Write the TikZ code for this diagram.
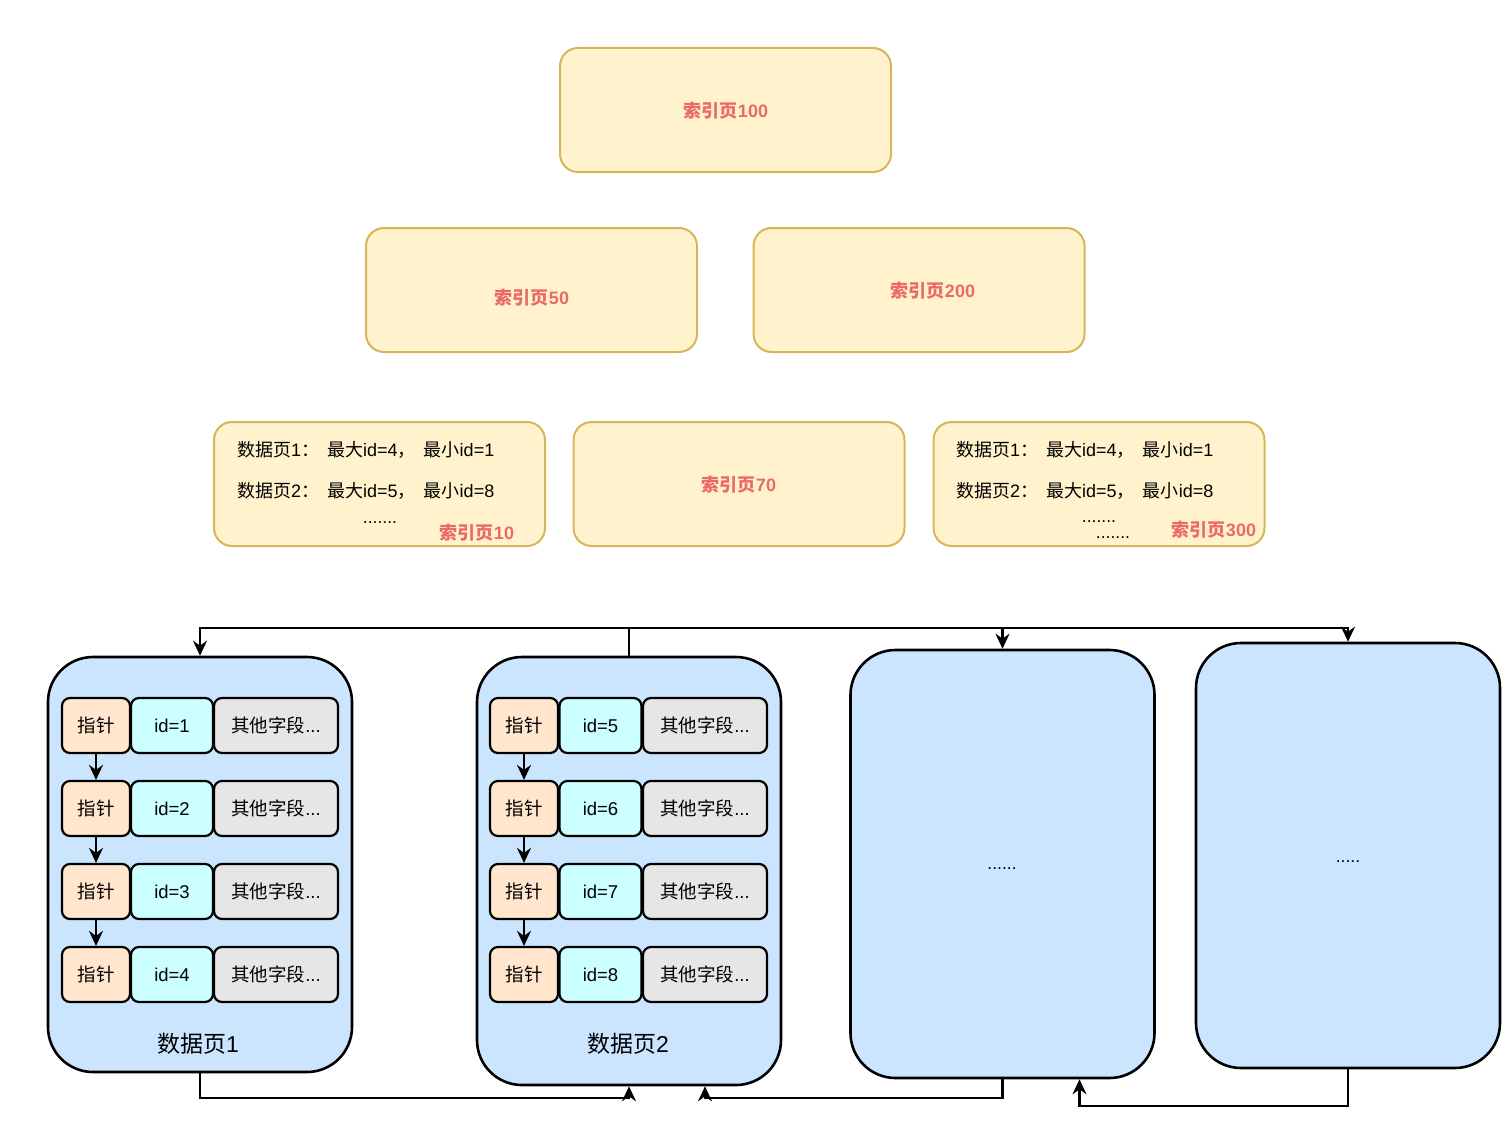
\documentclass[tikz,border=0pt]{standalone}
\usepackage{fontspec}
\setmainfont{Liberation Sans}
\newfontfamily\cjk{Noto Sans CJK SC}
\usetikzlibrary{arrows.meta,calc}
\definecolor{yfill}{HTML}{FFF2CC}
\definecolor{ydraw}{HTML}{D6B656}
\definecolor{redtxt}{HTML}{EA6B66}
\definecolor{bfill}{HTML}{CCE5FF}
\definecolor{pfill}{HTML}{FFE6CC}
\definecolor{ifill}{HTML}{CCFFFF}
\definecolor{ofill}{HTML}{E6E6E6}
\newcommand{\zh}[1]{{\cjk #1}}
\newcommand{\gap}{\hspace{8pt}}
\tikzset{
  ybox/.style={draw=ydraw,fill=yfill,line width=2pt,rounded corners=18pt,minimum width=331pt,minimum height=124pt},
  rlabel/.style={text=redtxt,font=\fontsize{18}{22}\selectfont\bfseries,inner sep=0pt},
  btxt/.style={font=\fontsize{18}{21}\selectfont,inner sep=0pt,anchor=west},
  dots/.style={font=\fontsize{17.5}{21}\selectfont,inner sep=0pt,text height=2pt,text depth=0pt},
  dpage/.style={draw=black,fill=bfill,line width=2.6pt,rounded corners=45pt,minimum width=304pt},
  cell/.style={draw=black,line width=2.2pt,rounded corners=8pt,minimum height=55pt,font=\fontsize{18.5}{22}\selectfont,inner sep=0pt},
  ptrc/.style={cell,fill=pfill,minimum width=68pt},
  idc/.style={cell,fill=ifill,minimum width=82pt},
  othc/.style={cell,fill=ofill,minimum width=124pt},
  conn/.style={draw=black,line width=2.2pt,-{Stealth[length=15pt,width=14pt,inset=5pt]}},
  plain/.style={draw=black,line width=2.2pt},
  pname/.style={font=\fontsize{23}{27}\selectfont,inner sep=0pt},
}
\begin{document}
\begin{tikzpicture}[x=1pt,y=-1pt]
\useasboundingbox (0,0) rectangle (1512,1129);
% index pages
\node[ybox] (i100) at (725.5,110) {};
\node[rlabel] (l100) at (726,111) {\zh{索引页}100};
\node[ybox] (i50) at (531.5,290) {};
\node[rlabel] (l50) at (532,298) {\zh{索引页}50};
\node[ybox] (i200) at (919,290) {};
\node[rlabel] (l200) at (933,291) {\zh{索引页}200};
\node[ybox] (i10) at (379.5,484) {};
\node[rlabel] (l10) at (477,533) {\zh{索引页}10};
\node[btxt] (t10a) at (237,450) {\zh{数据页}1\zh{：}\gap\zh{最大}id=4\zh{，}\gap\zh{最小}id=1};
\node[btxt] (t10b) at (237,491) {\zh{数据页}2\zh{：}\gap\zh{最大}id=5\zh{，}\gap\zh{最小}id=8};
\node[dots] (t10c) at (380,522) {.......};
\node[ybox] (i70) at (739,484) {};
\node[rlabel] (l70) at (739,485) {\zh{索引页}70};
\node[ybox] (i300) at (1099,484) {};
\node[rlabel] (l300) at (1214,530) {\zh{索引页}300};
\node[btxt] (t300a) at (956,450) {\zh{数据页}1\zh{：}\gap\zh{最大}id=4\zh{，}\gap\zh{最小}id=1};
\node[btxt] (t300b) at (956,491) {\zh{数据页}2\zh{：}\gap\zh{最大}id=5\zh{，}\gap\zh{最小}id=8};
\node[dots] (t300c) at (1099,521) {.......};
\node[dots] (t300d) at (1113,537) {.......};
% data pages
\node[dpage,minimum height=415pt] (p1) at (200,864.5) {};
\node[dpage,minimum height=428pt] (p2) at (629,871) {};
\node[dpage,minimum height=428pt] (p3) at (1002.5,864) {};
\node[dpage,minimum height=425pt] (p4) at (1348,855.5) {};
\node[pname] (n1) at (198,1044) {\zh{数据页}1};
\node[pname] (n2) at (628,1044) {\zh{数据页}2};
\node[dots] (d3) at (1002,868) {......};
\node[dots] (d4) at (1348,861) {.....};
% rows page 1
\foreach \r/\y/\id in {1/725.5/1,2/808.5/2,3/891.5/3,4/974.5/4}{
  \node[ptrc] (a\r p) at (96,\y) {\zh{指针}};
  \node[idc] (a\r i) at (172,\y) {id=\id};
  \node[othc] (a\r o) at (276,\y) {\zh{其他字段}...};
}
\foreach \r/\y/\id in {1/725.5/5,2/808.5/6,3/891.5/7,4/974.5/8}{
  \node[ptrc] (b\r p) at (524,\y) {\zh{指针}};
  \node[idc] (b\r i) at (600.5,\y) {id=\id};
  \node[othc] (b\r o) at (705,\y) {\zh{其他字段}...};
}
\foreach \a/\b in {1/2,2/3,3/4}{
  \draw[conn] (a\a p.south) -- (a\b p.north);
  \draw[conn] (b\a p.south) -- (b\b p.north);
}
% top bus
\coordinate (bus) at (0,628);
\draw[plain] (p2.north) -- (p2.north |- bus);
\draw[conn] (p2.north |- bus) -| (p1.north);
\draw[conn] (p2.north |- bus) -| (p3.north);
\draw[conn] (p3.north |- bus) -| (p4.north);
% bottom links
\coordinate (bot1) at (0,1098);
\coordinate (bot2) at (0,1106);
\coordinate (p2in) at ($(p2.south)+(76,0)$);
\coordinate (p3in) at ($(p3.south)+(77,0)$);
\draw[conn] (p1.south) -- (p1.south |- bot1) -| (p2.south);
\draw[conn] (p3.south) -- (p3.south |- bot1) -| (p2in);
\draw[conn] (p4.south) -- (p4.south |- bot2) -| (p3in);
\end{tikzpicture}
\end{document}
